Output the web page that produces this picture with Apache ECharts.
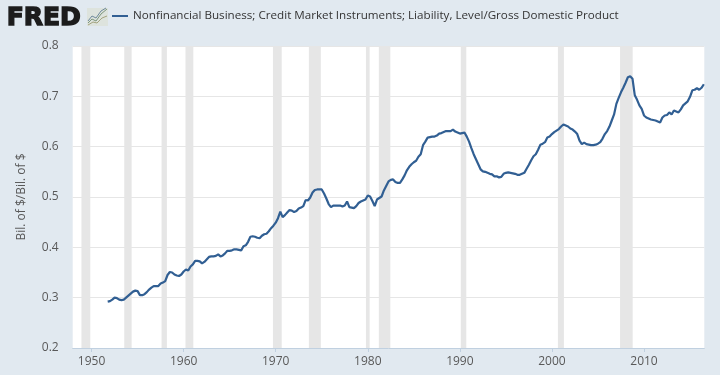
<!DOCTYPE html>
<html><head><meta charset="utf-8">
<style>html,body{margin:0;padding:0;background:#e1e9f0}#c{width:720px;height:375px}</style>
<script src="https://cdn.jsdelivr.net/npm/echarts@6/dist/echarts.min.js"></script>
</head><body><div id="c"></div>
<script>
const seriesName = 'Nonfinancial Business; Credit Market Instruments; Liability, Level/Gross Domestic Product';
const yAxisTitle = 'Bil. of $/Bil. of $';
const xTickYears = [1950,1960,1970,1980,1990,2000,2010];
const yTicks = [0.2,0.3,0.4,0.5,0.6,0.7,0.8];
const firstQuarter = 1951.75;
const ratioValues = [
 .292,
 .293,.296,.300,.299, .296,.295,.296,.300, .304,.308,.312,.314, .313,.305,.305,.307,
 .311,.316,.320,.323, .323,.323,.328,.330, .333,.345,.351,.350, .346,.344,.343,.346,
 .352,.356,.354,.362, .366,.373,.373,.372, .368,.371,.376,.381, .382,.382,.383,.386,
 .382,.384,.388,.393, .393,.394,.396,.396, .395,.394,.402,.404, .411,.421,.422,.421,
 .419,.418,.423,.426, .427,.432,.438,.443, .449,.458,.471,.460, .464,.469,.474,.473,
 .470,.472,.477,.479, .482,.494,.493,.499, .509,.514,.515,.515, .515,.507,.497,.486,
 .480,.483,.483,.483, .483,.481,.483,.491, .480,.479,.478,.482, .488,.491,.493,.495,
 .503,.501,.492,.482, .495,.498,.501,.513, .522,.531,.534,.535, .530,.528,.528,.535,
 .543,.553,.560,.565, .569,.572,.580,.585, .603,.610,.618,.619, .620,.620,.622,.626,
 .627,.629,.631,.631, .631,.634,.630,.628, .626,.627,.628,.620, .610,.597,.585,.575,
 .565,.555,.551,.550, .548,.546,.545,.541, .541,.539,.540,.546, .548,.549,.548,.547,
 .546,.544,.544,.546, .548,.556,.564,.573, .581,.585,.594,.604, .606,.609,.618,.620,
 .625,.629,.632,.635, .640,.644,.642,.640, .636,.634,.630,.625, .612,.605,.608,.605,
 .604,.603,.603,.604, .606,.609,.616,.625, .631,.640,.652,.664, .685,.697,.708,.717,
 .727,.738,.740,.735, .702,.693,.682,.675, .662,.658,.656,.654, .653,.652,.650,.648,
 .658,.662,.663,.668, .664,.672,.670,.668, .674,.682,.686,.690, .699,.712,.713,.716,
 .713,.717,.724
];
const recessionStarts = [1948.9,1953.55,1957.6,1960.2,1969.7,1973.6,1979.8,1981.2,1990.1,2000.65,2007.4];
const recessionEnds   = [1949.86,1954.35,1958.18,1961.05,1970.65,1974.9,1980.2,1982.45,1990.7,2001.3,2008.77];

const FONT = '"Open Sans"';
const TXT = '#595959';
const chart = echarts.init(document.getElementById('c'), null, {renderer:'canvas'});
chart.setOption({
  animation:false,
  backgroundColor:'#e1e9f0',
  textStyle:{fontFamily:FONT},
  grid:{left:72.7,right:15.7,top:46,bottom:27,backgroundColor:'#ffffff',show:true,borderWidth:0},
  legend:{
    left:112,top:10,icon:'rect',itemWidth:16,itemHeight:2,itemGap:0,padding:0,
    selectedMode:false,
    textStyle:{fontFamily:FONT,fontSize:11.65,color:'#333333',padding:[0,0,0,0]},
    data:[{name:seriesName}]
  },
  xAxis:{
    type:'value',min:1947.95,max:2016.55,
    splitLine:{show:false},
    axisLine:{show:true,lineStyle:{color:'#c0d0e0',width:1}},
    axisTick:{show:true,length:4,customValues:xTickYears,lineStyle:{color:'#c0d0e0'}},
    axisLabel:{customValues:xTickYears,formatter:v=>String(v),color:TXT,fontFamily:FONT,fontSize:12,margin:8}
  },
  yAxis:{
    type:'value',min:0.2,max:0.8,interval:0.1,
    name:yAxisTitle,nameLocation:'middle',nameGap:45,
    nameTextStyle:{fontFamily:FONT,fontSize:12,color:TXT},
    axisLine:{show:false},axisTick:{show:false},
    splitLine:{show:true,lineStyle:{color:'#e6e6e6',width:1}},
    axisLabel:{formatter:v=>v.toFixed(1),color:TXT,fontFamily:FONT,fontSize:12,margin:14}
  },
  series:[{
    name:seriesName,type:'line',symbol:'none',smooth:false,
    lineStyle:{color:'#315f93',width:2.2},itemStyle:{color:'#315f93'},
    data:ratioValues.map((v,i)=>[firstQuarter+i*0.25,v]),
    markArea:{silent:true,itemStyle:{color:'#e6e6e6'},
      data:recessionStarts.map((s,i)=>[{xAxis:s},{xAxis:recessionEnds[i]}])}
  }],
  graphic:[
    {type:'text',left:6,top:5,style:{text:'FRED',font:'bold 25px "DejaVu Sans"',fill:'#1c1c1c',stroke:'#1c1c1c',lineWidth:1.4}},
    {type:'rect',left:87,top:8,shape:{width:21,height:18},style:{fill:'#dde3dd'}},
    {type:'polyline',shape:{points:[[88,23],[92,19],[96,21],[101,14],[107,9]]},style:{stroke:'#7d967d',fill:'none',lineWidth:1}},
    {type:'polyline',shape:{points:[[88,25],[93,22],[97,23],[102,18],[107,16]]},style:{stroke:'#a3a37f',fill:'none',lineWidth:1}},
    {type:'polyline',shape:{points:[[88,21],[92,16],[96,18],[101,11],[106,8]]},style:{stroke:'#6f8a9c',fill:'none',lineWidth:1}}
  ]
});
</script></body></html>
